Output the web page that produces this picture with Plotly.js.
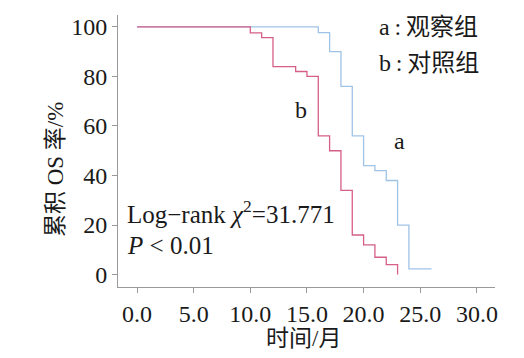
<!DOCTYPE html>
<html>
<head>
<meta charset="utf-8">
<script src="https://cdn.plot.ly/plotly-3.0.1.min.js"></script>
<style>html,body{margin:0;padding:0;background:#fff;}#chart{width:524px;height:358px;}</style>
</head>
<body>
<div id="chart"></div>
<script>
// Group b (control) Kaplan-Meier steps
const timeB = [0, 10, 11, 12, 14, 15, 16, 17, 18, 19, 20, 21, 22, 23];
const survB = [100, 97.6, 95.7, 84, 82, 80, 56, 50, 34, 16, 12, 7, 4, 0];
// Group a (observation) Kaplan-Meier steps
const timeA = [0, 16, 17, 18, 19, 20, 21, 22, 23, 24, 26];
const survA = [100, 97.7, 90, 76, 56, 44, 42, 38, 20, 2.3, 2.3];
const xTicks = [0, 5, 10, 15, 20, 25, 30];
const yTicks = [0, 20, 40, 60, 80, 100];

const FONT = '"Liberation Serif", "Noto Sans CJK SC", serif';
const TXT = '#1a1a1a';

const traces = [
  {x: timeA, y: survA, mode: 'lines', line: {shape: 'hv', color: '#9fc3e6', width: 1.3}, hoverinfo: 'skip'},
  {x: timeB, y: survB, mode: 'lines', line: {shape: 'hv', color: '#d65f88', width: 1.3}, hoverinfo: 'skip'}
];

const layout = {
  width: 524, height: 358,
  margin: {l: 118, r: 29, t: 15, b: 71, pad: 0},
  paper_bgcolor: '#fff', plot_bgcolor: '#fff',
  showlegend: false,
  font: {family: FONT, size: 24, color: TXT},
  xaxis: {
    range: [-1.68, 31.6], tickvals: xTicks, tickformat: '.1f',
    showgrid: false, zeroline: false, showline: true, linecolor: '#9a9a9a', linewidth: 1,
    ticks: 'outside', ticklen: 5, tickcolor: '#9a9a9a',
    tickfont: {family: FONT, size: 24, color: TXT}
  },
  yaxis: {
    range: [-5, 104.8], tickvals: yTicks,
    showgrid: false, zeroline: false, showline: true, linecolor: '#9a9a9a', linewidth: 1,
    ticks: 'outside', ticklen: 5, tickcolor: '#9a9a9a',
    tickfont: {family: FONT, size: 24, color: TXT}
  },
  annotations: [
    {x: 0.493, y: -0.19, xref: 'paper', yref: 'paper', text: '时间/月', showarrow: false, xanchor: 'center', yanchor: 'middle', font: {family: FONT, size: 23, color: TXT}},
    {x: -0.167, y: 0.43, xref: 'paper', yref: 'paper', text: '累积 OS 率/%', textangle: -90, showarrow: false, xanchor: 'center', yanchor: 'middle', font: {family: FONT, size: 23, color: TXT}},
    {x: 21.2, y: 100, xref: 'x', yref: 'y', text: 'a\u2009:\u2009观察组', showarrow: false, xanchor: 'left', yanchor: 'middle', font: {family: FONT, size: 24, color: TXT}},
    {x: 21.2, y: 85.4, xref: 'x', yref: 'y', text: 'b\u2009:\u2009对照组', showarrow: false, xanchor: 'left', yanchor: 'middle', font: {family: FONT, size: 24, color: TXT}},
    {x: 23.2, y: 53.9, xref: 'x', yref: 'y', text: 'a', showarrow: false, font: {family: FONT, size: 24, color: TXT}},
    {x: 14.5, y: 66.4, xref: 'x', yref: 'y', text: 'b', showarrow: false, font: {family: FONT, size: 24, color: TXT}},
    {x: -1.1, y: 25.2, xref: 'x', yref: 'y', text: 'Log\u2212rank <i>χ</i><sup>2</sup>=31.771', showarrow: false, xanchor: 'left', yanchor: 'middle', font: {family: FONT, size: 25, color: TXT}},
    {x: -1.1, y: 11.9, xref: 'x', yref: 'y', text: '<i>P</i> < 0.01', showarrow: false, xanchor: 'left', yanchor: 'middle', font: {family: FONT, size: 25, color: TXT}}
  ]
};

Plotly.newPlot('chart', traces, layout, {staticPlot: true, displayModeBar: false});
</script>
</body>
</html>
